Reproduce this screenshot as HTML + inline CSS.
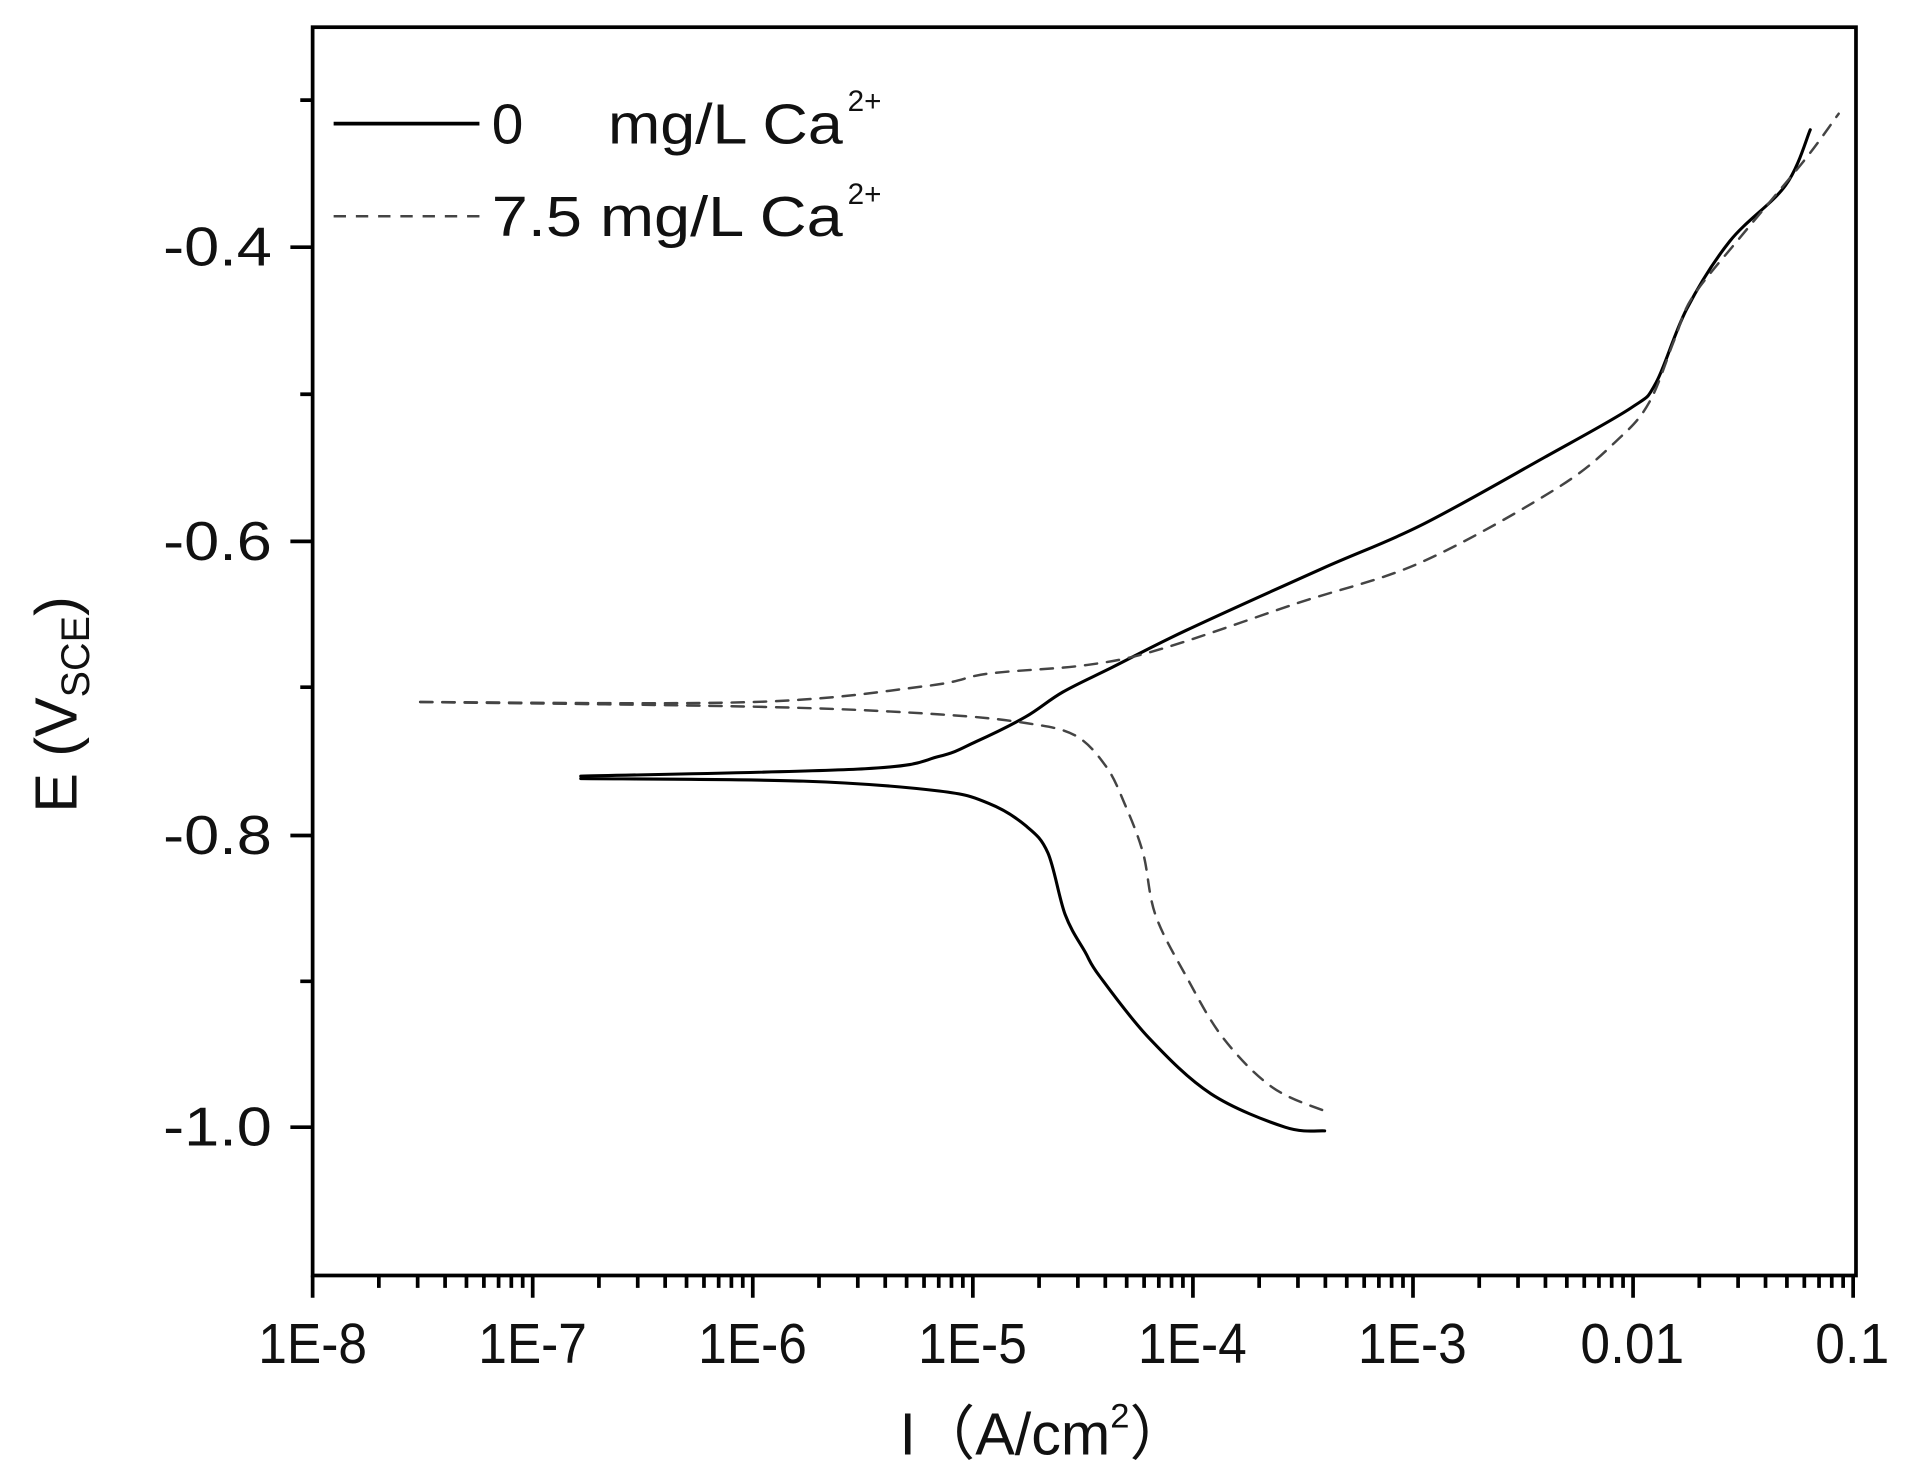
<!DOCTYPE html>
<html><head><meta charset="utf-8"><style>
html,body{margin:0;padding:0;background:#fff;}
svg{display:block;}
text{font-family:"Liberation Sans","Noto Sans CJK SC",sans-serif;fill:#111;}
</style></head><body>
<svg id="s" width="1919" height="1472" viewBox="0 0 1553 1191" preserveAspectRatio="none" xmlns="http://www.w3.org/2000/svg">
<rect x="0" y="0" width="1553" height="1191" fill="#fff"/>
<g id="ax" stroke="#000" stroke-width="3" fill="none">
<rect x="253" y="22" width="1249" height="1010"/>
</g>
<g id="ticks" stroke="#000" stroke-width="3"></g>
<g font-size="44" text-anchor="end">
<text x="220" y="215" textLength="88" lengthAdjust="spacingAndGlyphs">-0.4</text>
<text x="220" y="453" textLength="88" lengthAdjust="spacingAndGlyphs">-0.6</text>
<text x="220" y="691" textLength="88" lengthAdjust="spacingAndGlyphs">-0.8</text>
<text x="220" y="927" textLength="88" lengthAdjust="spacingAndGlyphs">-1.0</text>
</g>
<g font-size="46" text-anchor="middle">
<text x="253" y="1103" textLength="88" lengthAdjust="spacingAndGlyphs">1E-8</text>
<text x="431" y="1103" textLength="88" lengthAdjust="spacingAndGlyphs">1E-7</text>
<text x="609" y="1103" textLength="88" lengthAdjust="spacingAndGlyphs">1E-6</text>
<text x="787" y="1103" textLength="88" lengthAdjust="spacingAndGlyphs">1E-5</text>
<text x="965" y="1103" textLength="88" lengthAdjust="spacingAndGlyphs">1E-4</text>
<text x="1143" y="1103" textLength="88" lengthAdjust="spacingAndGlyphs">1E-3</text>
<text x="1321" y="1103" textLength="84" lengthAdjust="spacingAndGlyphs">0.01</text>
<text x="1499" y="1103" textLength="60" lengthAdjust="spacingAndGlyphs">0.1</text>
</g>
<text x="845" y="1177" font-size="48" text-anchor="middle">I（A/cm<tspan font-size="28" dy="-22">2</tspan><tspan dy="22">）</tspan></text>
<text transform="translate(62,570) rotate(-90)" font-size="48" text-anchor="middle">E (V<tspan font-size="32" dy="10">SCE</tspan><tspan dy="-10">)</tspan></text>
<line x1="270" y1="100" x2="388" y2="100" stroke="#000" stroke-width="3"/>
<line x1="270" y1="175" x2="388" y2="175" stroke="#444" stroke-width="2" stroke-dasharray="10,8"/>
<text x="398" y="116" font-size="46">0</text>
<text x="492" y="116" font-size="46" textLength="190" lengthAdjust="spacingAndGlyphs">mg/L Ca</text>
<text x="686" y="90" font-size="24">2+</text>
<text x="398" y="191" font-size="46" textLength="284" lengthAdjust="spacingAndGlyphs">7.5 mg/L Ca</text>
<text x="686" y="165" font-size="24">2+</text>
<g id="curves" fill="none" stroke-linejoin="round" stroke-linecap="round"></g>
</svg>
<script>
var g=document.getElementById('ticks'),d='';
var x0=253,dec=178.1;
for(var k=0;k<7;k++){for(var m=2;m<=9;m++){var x=x0+(k+Math.log10(m))*dec;d+='M'+x.toFixed(1)+',1032 v10 ';}}
for(var k=0;k<=7;k++){var x=x0+k*dec;d+='M'+x.toFixed(1)+',1032 v18 ';}
var ys=[81,200,319,438,556,676,794,912];
for(var i=0;i<ys.length;i++){d+='M253,'+ys[i]+' h'+(i%2?-18:-10)+' ';}
var p=document.createElementNS('http://www.w3.org/2000/svg','path');p.setAttribute('d',d);g.appendChild(p);
function cr(pts){var s='M'+pts[0][0]+','+pts[0][1];for(var i=0;i<pts.length-1;i++){var p0=pts[i-1]||pts[i],p1=pts[i],p2=pts[i+1],p3=pts[i+2]||p2;
s+=' C'+(p1[0]+(p2[0]-p0[0])/6).toFixed(1)+','+(p1[1]+(p2[1]-p0[1])/6).toFixed(1)+' '+(p2[0]-(p3[0]-p1[0])/6).toFixed(1)+','+(p2[1]-(p3[1]-p1[1])/6).toFixed(1)+' '+p2[0]+','+p2[1];}return s;}
var C=document.getElementById('curves');
function add(pts,dash){var e=document.createElementNS('http://www.w3.org/2000/svg','path');e.setAttribute('d',cr(pts));
e.setAttribute('stroke',dash?'#444':'#000');e.setAttribute('stroke-width',dash?'2':'2.5');if(dash)e.setAttribute('stroke-dasharray','10,8');C.appendChild(e);}
add([[470,628],[700,622],[760,612],[790,600],[830,580],[860,560],[900,540],[960,510],[1070,460],[1150,425],[1250,370],[1320,330],[1340,310],[1365,250],[1400,195],[1445,150],[1465,105]],0);
add([[470,630],[650,632],[760,640],[800,650],[830,668],[848,690],[862,740],[878,770],[890,790],[930,840],[980,885],[1040,912],[1072,915]],0);
add([[340,568],[610,568],[750,555],[800,545],[880,538],[940,525],[1050,488],[1150,455],[1260,395],[1310,355],[1335,325],[1355,275],[1370,240],[1410,190],[1460,130],[1488,92]],1);
add([[340,568],[620,572],[760,578],[830,585],[870,595],[895,620],[910,650],[925,690],[935,740],[960,790],[990,840],[1030,880],[1075,900]],1);
</script>
</body></html>
